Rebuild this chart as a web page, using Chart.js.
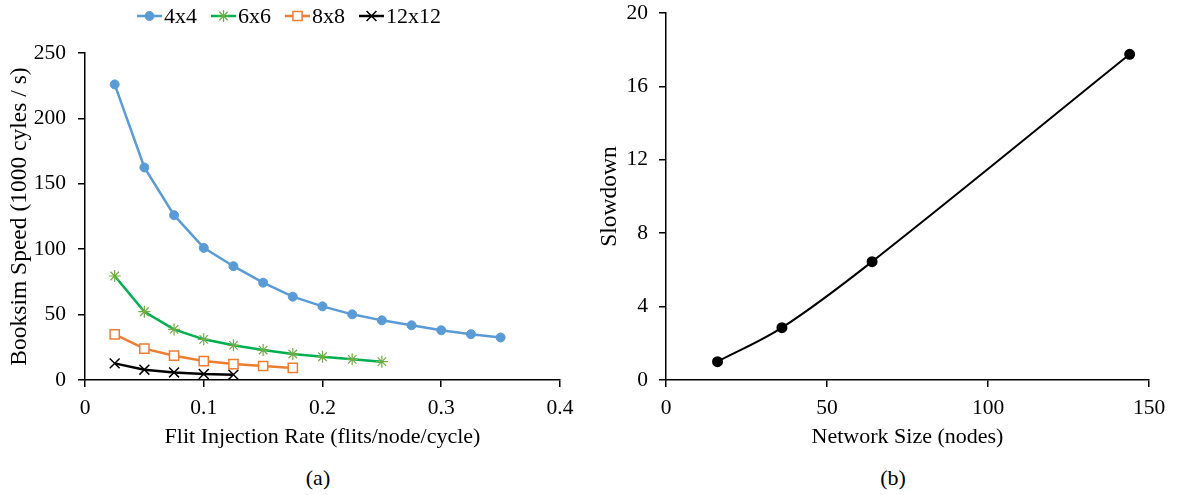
<!DOCTYPE html>
<html>
<head>
<meta charset="utf-8">
<script src="https://cdn.jsdelivr.net/npm/chart.js@4"></script>
<style>
  html, body { margin: 0; padding: 0; background: #fff; }
  body { width: 1177px; height: 495px; position: relative; overflow: hidden; font-family: "Liberation Serif", serif; }
  .box { position: absolute; top: 0; height: 460px; }
  #boxA { left: 0; width: 585px; }
  #boxB { left: 590px; width: 587px; }
  .cap { position: absolute; top: 465px; font-size: 22px; color: #000; transform: translateX(-50%); }
</style>
</head>
<body>
<div class="box" id="boxA"><canvas id="chartA"></canvas></div>
<div class="box" id="boxB"><canvas id="chartB"></canvas></div>
<div class="cap" style="left:318px">(a)</div>
<div class="cap" style="left:893px">(b)</div>
<script>
// (a) Booksim speed vs. injection rate
const injectionRates = [0.025, 0.05, 0.075, 0.1, 0.125, 0.15, 0.175, 0.2, 0.225, 0.25, 0.275, 0.3, 0.325, 0.35];
const speed4x4 = [226, 162.5, 126, 101, 87, 74.4, 63.7, 56.3, 50.2, 45.6, 41.8, 38, 35, 32.5];
const speed6x6 = [79.5, 52.2, 38.7, 31.1, 26.5, 22.9, 19.9, 17.8, 15.8, 14];
const speed8x8 = [34.9, 24, 18.6, 14.5, 12.2, 10.7, 9.2];
const speed12x12 = [12.7, 7.9, 5.8, 4.6, 4.1];
const seriesNames = ['4x4', '6x6', '8x8', '12x12'];

// (b) slowdown vs. network size
const networkSizes = [16, 36, 64, 144];
const slowdown = [1.0, 2.85, 6.45, 17.75];

const FONT = "'Liberation Serif', 'Times New Roman', serif";
Chart.defaults.font.family = FONT;
Chart.defaults.font.size = 21.5;
Chart.defaults.color = '#000';

const toPoints = (xs, ys) => ys.map((y, i) => ({ x: xs[i], y }));

// legend drawn as line + marker, like the original
const lineLegend = {
  id: 'lineLegend',
  afterDraw(chart) {
    const ctx = chart.ctx;
    const cy = 16;
    ctx.save();
    ctx.font = '22px ' + FONT;
    const items = chart.data.datasets.map(ds => ({ ds, w: 25 + 2 + ctx.measureText(ds.label).width }));
    const total = items.reduce((s, it) => s + it.w, 0) + 14 * (items.length - 1);
    let x = 289 - total / 2;
    items.forEach(({ ds }) => {
      ctx.strokeStyle = ds.borderColor;
      ctx.lineWidth = ds.borderWidth;
      ctx.beginPath();
      ctx.moveTo(x, cy);
      ctx.lineTo(x + 25, cy);
      ctx.stroke();
      ctx.strokeStyle = ds.pointBorderColor;
      ctx.fillStyle = ds.pointBackgroundColor;
      ctx.lineWidth = ds.pointBorderWidth;
      Chart.helpers.drawPoint(ctx, { pointStyle: ds.pointStyle, radius: ds.pointRadius, rotation: 0, borderWidth: ds.pointBorderWidth }, x + 12.5, cy);
      ctx.fillStyle = '#000';
      ctx.textAlign = 'left';
      ctx.textBaseline = 'middle';
      ctx.fillText(ds.label, x + 27, cy + 1);
      x += 27 + ctx.measureText(ds.label).width + 14;
    });
    ctx.restore();
  }
};

function axisStyle(extra) {
  return Object.assign({
    type: 'linear',
    border: { color: '#000', width: 1.5 },
    grid: { drawOnChartArea: false, color: '#000', lineWidth: 1.5, tickLength: 7 }
  }, extra);
}

new Chart(document.getElementById('chartA'), {
  type: 'line',
  data: {
    datasets: [
      { label: seriesNames[0], data: toPoints(injectionRates, speed4x4), borderColor: '#5B9BD5', borderWidth: 2.5,
        pointStyle: 'circle', pointRadius: 4.5, pointBackgroundColor: '#5B9BD5', pointBorderColor: '#5B9BD5', pointBorderWidth: 1 },
      { label: seriesNames[1], data: toPoints(injectionRates, speed6x6), borderColor: '#00B050', borderWidth: 2.5,
        pointStyle: 'star', pointRadius: 6, pointBackgroundColor: '#70AD47', pointBorderColor: '#70AD47', pointBorderWidth: 1.2 },
      { label: seriesNames[2], data: toPoints(injectionRates, speed8x8), borderColor: '#ED7D31', borderWidth: 2.5,
        pointStyle: 'rect', pointRadius: 6.5, pointBackgroundColor: '#fff', pointBorderColor: '#ED7D31', pointBorderWidth: 1.5 },
      { label: seriesNames[3], data: toPoints(injectionRates, speed12x12), borderColor: '#000', borderWidth: 2.5,
        pointStyle: 'crossRot', pointRadius: 7, pointBackgroundColor: '#000', pointBorderColor: '#000', pointBorderWidth: 1.5 }
    ]
  },
  options: {
    responsive: true,
    maintainAspectRatio: false,
    animation: false,
    layout: { padding: { top: 53, right: 25, bottom: 10, left: 0 } },
    plugins: { legend: { display: false }, tooltip: { enabled: false } },
    elements: { line: { tension: 0 } },
    scales: {
      x: axisStyle({
        min: 0, max: 0.4,
        ticks: { stepSize: 0.1, padding: 8, color: '#000', font: { size: 21.5 } },
        title: { display: true, text: 'Flit Injection Rate (flits/node/cycle)', color: '#000', font: { size: 22 }, padding: 0 },
        afterFit: s => { s.height = 70; }
      }),
      y: axisStyle({
        min: 0, max: 250,
        ticks: { stepSize: 50, padding: 12, color: '#000', font: { size: 21.5 } },
        title: { display: true, text: 'Booksim Speed (1000 cyles / s)', color: '#000', font: { size: 23.5 }, padding: { top: 6 } },
        afterFit: s => { s.width = 85; s.paddingTop = 0; s.paddingBottom = 0; }
      })
    }
  },
  plugins: [lineLegend]
});

new Chart(document.getElementById('chartB'), {
  type: 'line',
  data: {
    datasets: [
      { label: 'Slowdown', data: toPoints(networkSizes, slowdown), borderColor: '#000', borderWidth: 2,
        pointStyle: 'circle', pointRadius: 4.5, pointBackgroundColor: '#000', pointBorderColor: '#000', tension: 0.35 }
    ]
  },
  options: {
    responsive: true,
    maintainAspectRatio: false,
    animation: false,
    layout: { padding: { top: 13, right: 28, bottom: 10, left: 0 } },
    plugins: { legend: { display: false }, tooltip: { enabled: false } },
    scales: {
      x: axisStyle({
        min: 0, max: 150,
        ticks: { stepSize: 50, padding: 8, color: '#000', font: { size: 21.5 } },
        title: { display: true, text: 'Network Size (nodes)', color: '#000', font: { size: 22 }, padding: 0 },
        afterFit: s => { s.height = 70; }
      }),
      y: axisStyle({
        min: 0, max: 20,
        ticks: { stepSize: 4, padding: 11, color: '#000', font: { size: 21.5 } },
        title: { display: true, text: 'Slowdown', color: '#000', font: { size: 23.5 }, padding: { top: 6 } },
        afterFit: s => { s.width = 76; s.paddingTop = 0; s.paddingBottom = 0; }
      })
    }
  }
});
</script>
</body>
</html>
